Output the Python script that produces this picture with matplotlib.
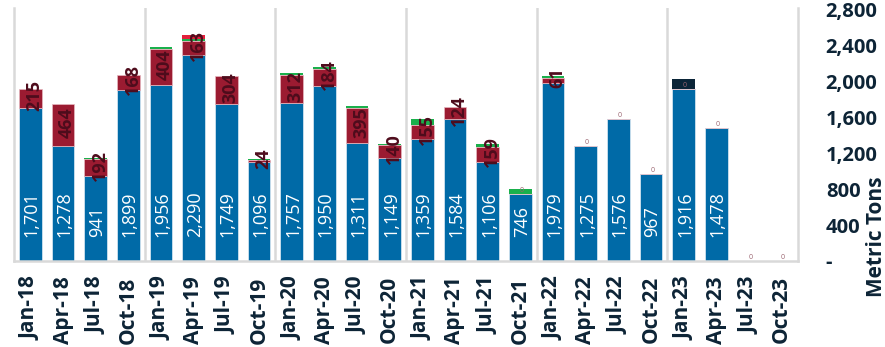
import numpy as np
import matplotlib.pyplot as plt

plt.rcParams['font.family'] = ['Open Sans', 'DejaVu Sans']

quarters = ['Jan-18', 'Apr-18', 'Jul-18', 'Oct-18', 'Jan-19', 'Apr-19', 'Jul-19', 'Oct-19',
            'Jan-20', 'Apr-20', 'Jul-20', 'Oct-20', 'Jan-21', 'Apr-21', 'Jul-21', 'Oct-21',
            'Jan-22', 'Apr-22', 'Jul-22', 'Oct-22', 'Jan-23', 'Apr-23', 'Jul-23', 'Oct-23']
base_vals = [1701, 1278, 941, 1899, 1956, 2290, 1749, 1096, 1757, 1950, 1311, 1149,
             1359, 1584, 1106, 746, 1979, 1275, 1576, 967, 1916, 1478, 0, 0]
second_vals = [215, 464, 192, 168, 404, 163, 304, 24, 312, 184, 395, 140,
               155, 124, 159, 0, 61, 0, 0, 0, 0, 0, 0, 0]
green_vals = [0, 0, 15, 0, 25, 22, 5, 15, 20, 20, 20, 17,
              70, 0, 40, 50, 22, 0, 0, 0, 0, 0, 0, 0]
crimson_vals = [0, 0, 0, 0, 0, 35, 0, 0, 0, 0, 0, 0,
                0, 10, 0, 0, 0, 0, 0, 0, 0, 0, 0, 0]
navy_vals = [0, 0, 0, 0, 0, 0, 0, 0, 0, 0, 0, 0,
             0, 0, 0, 0, 0, 0, 0, 0, 105, 0, 0, 0]
y_ticks = [0, 400, 800, 1200, 1600, 2000, 2400, 2800]

BLUE = '#006aa7'
RED = '#9b1b31'
GREEN = '#1ab04c'
CRIMSON = '#e3203c'
NAVY = '#0b2538'
TEXT = '#0d2436'
GRID = '#d9d9d9'

fig = plt.figure(figsize=(8.85, 3.47), dpi=100)
ax = fig.add_axes([14 / 885, 1 - 261 / 347, 784 / 885, 253 / 347])

x = np.arange(len(quarters))
w = 0.70
base = np.array(base_vals, dtype=float)
second = np.array(second_vals, dtype=float)
green = np.array(green_vals, dtype=float)
crimson = np.array(crimson_vals, dtype=float)
navy = np.array(navy_vals, dtype=float)

ax.bar(x, base, w, color=BLUE, edgecolor='#cfe2ef', linewidth=0.6, zorder=2)
ax.bar(x, second, w, bottom=base, color=RED, edgecolor='#e6b8c0', linewidth=0.5, zorder=2)
b2 = base + second
ax.bar(x, green, w, bottom=b2, color=GREEN, linewidth=0, zorder=2)
b3 = b2 + green
ax.bar(x, crimson, w, bottom=b3, color=CRIMSON, linewidth=0, zorder=2)
b4 = b3 + crimson
ax.bar(x, navy, w, bottom=b4, color=NAVY, linewidth=0, zorder=2)

# white value labels anchored at the base of each bar
for xi, v in zip(x, base_vals):
    if v > 0:
        ax.annotate(f'{v:,}', (xi, 0), xytext=(1, 17), textcoords='offset points',
                    rotation=90, ha='center', va='bottom', color='white',
                    fontsize=13, zorder=4)

# dark labels centred on the second segment; empty segments get a tiny "0"
for xi, b, v in zip(x, base_vals, second_vals):
    yc = b + v / 2
    if v > 0:
        ax.annotate(f'{v}', (xi, yc), xytext=(3, 2), textcoords='offset points',
                    rotation=90, ha='center', va='center', color='#4e0c1c',
                    fontsize=13, fontweight='bold', zorder=5)
    else:
        ax.annotate('0', (xi, yc), xytext=(1, 2.5), textcoords='offset points',
                    ha='center', va='center', color='#9a6470',
                    fontsize=5, zorder=5)

# year separators
for sx in [3.5, 7.5, 11.5, 15.5, 19.5]:
    ax.axvline(sx, color=GRID, linewidth=1.8, zorder=1)

ax.set_xlim(-0.5, len(quarters) - 0.5)
ax.set_ylim(0, 2815)

for side in ['left', 'bottom', 'right']:
    ax.spines[side].set_color(GRID)
    ax.spines[side].set_linewidth(1.8)
ax.spines['top'].set_visible(False)

ax.set_xticks(x)
ax.set_xticklabels(quarters, rotation=90, fontsize=15, fontweight='bold', color=TEXT)
ax.tick_params(axis='x', length=0, pad=11)

ax.yaxis.tick_right()
ax.set_yticks(y_ticks)
ax.set_yticklabels(['-' if t == 0 else f'{t:,}' for t in y_ticks],
                   fontsize=14.5, fontweight='bold', color=TEXT)
ax.tick_params(axis='y', length=0, pad=20)

fig.text(876 / 885, 1 - 237 / 347, 'Metric Tons', rotation=90, ha='center', va='center',
         fontsize=15, fontweight='bold', color=TEXT)

fig.savefig('out.png', dpi=100)
